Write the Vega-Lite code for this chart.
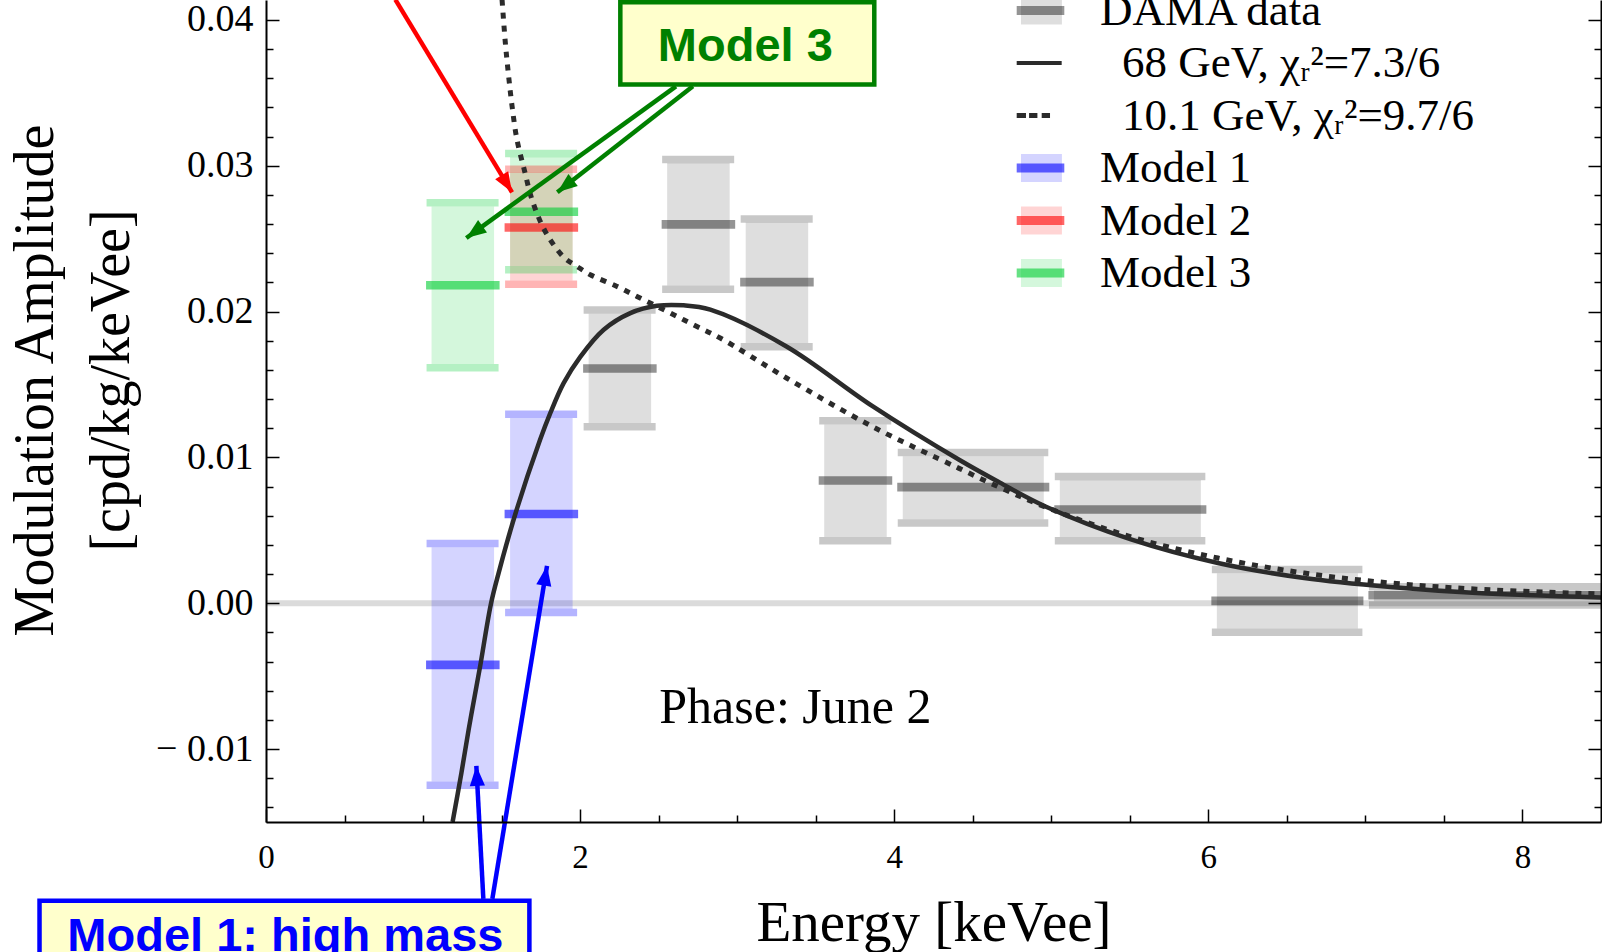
{
  "$schema": "https://vega.github.io/schema/vega-lite/v6.json",
  "width": 1335,
  "height": 822,
  "autosize": {"type": "none"},
  "padding": {"left": 266, "top": 0, "right": 1, "bottom": 130},
  "background": "white",
  "config": {"view": {"stroke": null}, "axis": {"grid": false}, "font": "Liberation Serif"},
  "datasets": {
    "bins": [
      {"series": "DAMA data", "lo": 2, "hi": 2.5, "val": 0.0161, "lower": 0.01211, "upper": 0.02011},
      {"series": "DAMA data", "lo": 2.5, "hi": 3, "val": 0.02598, "lower": 0.02154, "upper": 0.03044},
      {"series": "DAMA data", "lo": 3, "hi": 3.5, "val": 0.02202, "lower": 0.01759, "upper": 0.02636},
      {"series": "DAMA data", "lo": 3.5, "hi": 4, "val": 0.00842, "lower": 0.00429, "upper": 0.01252},
      {"series": "DAMA data", "lo": 4, "hi": 5, "val": 0.00797, "lower": 0.00551, "upper": 0.01034},
      {"series": "DAMA data", "lo": 5, "hi": 6, "val": 0.00643, "lower": 0.00429, "upper": 0.0087},
      {"series": "DAMA data", "lo": 6, "hi": 7, "val": 0.00016, "lower": -0.00198, "upper": 0.00232},
      {"series": "DAMA data", "lo": 7, "hi": 10, "val": 0.00055, "lower": -0.00012, "upper": 0.00113},
      {"series": "Model 1", "lo": 1, "hi": 1.5, "val": -0.00422, "lower": -0.01248, "upper": 0.0041},
      {"series": "Model 1", "lo": 1.5, "hi": 2, "val": 0.00612, "lower": -0.00064, "upper": 0.01296},
      {"series": "Model 2", "lo": 1.5, "hi": 2, "val": 0.02577, "lower": 0.02188, "upper": 0.02977},
      {"series": "Model 3", "lo": 1, "hi": 1.5, "val": 0.02181, "lower": 0.01615, "upper": 0.02747},
      {"series": "Model 3", "lo": 1.5, "hi": 2, "val": 0.02685, "lower": 0.02287, "upper": 0.03085}
    ],
    "curves": [
      {"series": "68 GeV, χᵣ²=7.3/6", "energy": 1.188, "amp": -0.015},
      {"series": "68 GeV, χᵣ²=7.3/6", "energy": 1.244, "amp": -0.01165},
      {"series": "68 GeV, χᵣ²=7.3/6", "energy": 1.29, "amp": -0.00868},
      {"series": "68 GeV, χᵣ²=7.3/6", "energy": 1.34, "amp": -0.0057},
      {"series": "68 GeV, χᵣ²=7.3/6", "energy": 1.365, "amp": -0.00422},
      {"series": "68 GeV, χᵣ²=7.3/6", "energy": 1.433, "amp": 0.0},
      {"series": "68 GeV, χᵣ²=7.3/6", "energy": 1.481, "amp": 0.00207},
      {"series": "68 GeV, χᵣ²=7.3/6", "energy": 1.588, "amp": 0.00614},
      {"series": "68 GeV, χᵣ²=7.3/6", "energy": 1.745, "amp": 0.01121},
      {"series": "68 GeV, χᵣ²=7.3/6", "energy": 1.81, "amp": 0.01304},
      {"series": "68 GeV, χᵣ²=7.3/6", "energy": 1.895, "amp": 0.0151},
      {"series": "68 GeV, χᵣ²=7.3/6", "energy": 2.001, "amp": 0.0169},
      {"series": "68 GeV, χᵣ²=7.3/6", "energy": 2.15, "amp": 0.01876},
      {"series": "68 GeV, χᵣ²=7.3/6", "energy": 2.32, "amp": 0.0199},
      {"series": "68 GeV, χᵣ²=7.3/6", "energy": 2.49, "amp": 0.0204},
      {"series": "68 GeV, χᵣ²=7.3/6", "energy": 2.659, "amp": 0.02043},
      {"series": "68 GeV, χᵣ²=7.3/6", "energy": 2.829, "amp": 0.02013},
      {"series": "68 GeV, χᵣ²=7.3/6", "energy": 3.314, "amp": 0.01761},
      {"series": "68 GeV, χᵣ²=7.3/6", "energy": 3.864, "amp": 0.0135},
      {"series": "68 GeV, χᵣ²=7.3/6", "energy": 4.413, "amp": 0.00984},
      {"series": "68 GeV, χᵣ²=7.3/6", "energy": 4.67, "amp": 0.00829},
      {"series": "68 GeV, χᵣ²=7.3/6", "energy": 4.963, "amp": 0.00664},
      {"series": "68 GeV, χᵣ²=7.3/6", "energy": 5.512, "amp": 0.00436},
      {"series": "68 GeV, χᵣ²=7.3/6", "energy": 6.061, "amp": 0.00276},
      {"series": "68 GeV, χᵣ²=7.3/6", "energy": 6.61, "amp": 0.00173},
      {"series": "68 GeV, χᵣ²=7.3/6", "energy": 7.16, "amp": 0.00111},
      {"series": "68 GeV, χᵣ²=7.3/6", "energy": 7.709, "amp": 0.0007},
      {"series": "68 GeV, χᵣ²=7.3/6", "energy": 8.507, "amp": 0.0004},
      {"series": "10.1 GeV, χᵣ²=9.7/6", "energy": 1.503, "amp": 0.04139},
      {"series": "10.1 GeV, χᵣ²=9.7/6", "energy": 1.524, "amp": 0.03842},
      {"series": "10.1 GeV, χᵣ²=9.7/6", "energy": 1.545, "amp": 0.03613},
      {"series": "10.1 GeV, χᵣ²=9.7/6", "energy": 1.567, "amp": 0.03407},
      {"series": "10.1 GeV, χᵣ²=9.7/6", "energy": 1.598, "amp": 0.03179},
      {"series": "10.1 GeV, χᵣ²=9.7/6", "energy": 1.647, "amp": 0.02962},
      {"series": "10.1 GeV, χᵣ²=9.7/6", "energy": 1.694, "amp": 0.02767},
      {"series": "10.1 GeV, χᵣ²=9.7/6", "energy": 1.778, "amp": 0.0255},
      {"series": "10.1 GeV, χᵣ²=9.7/6", "energy": 1.895, "amp": 0.02374},
      {"series": "10.1 GeV, χᵣ²=9.7/6", "energy": 1.98, "amp": 0.0231},
      {"series": "10.1 GeV, χᵣ²=9.7/6", "energy": 2.065, "amp": 0.02253},
      {"series": "10.1 GeV, χᵣ²=9.7/6", "energy": 2.235, "amp": 0.02173},
      {"series": "10.1 GeV, χᵣ²=9.7/6", "energy": 2.362, "amp": 0.02104},
      {"series": "10.1 GeV, χᵣ²=9.7/6", "energy": 2.49, "amp": 0.02036},
      {"series": "10.1 GeV, χᵣ²=9.7/6", "energy": 2.617, "amp": 0.01967},
      {"series": "10.1 GeV, χᵣ²=9.7/6", "energy": 2.744, "amp": 0.01898},
      {"series": "10.1 GeV, χᵣ²=9.7/6", "energy": 2.892, "amp": 0.01819},
      {"series": "10.1 GeV, χᵣ²=9.7/6", "energy": 3.314, "amp": 0.01545},
      {"series": "10.1 GeV, χᵣ²=9.7/6", "energy": 3.864, "amp": 0.0121},
      {"series": "10.1 GeV, χᵣ²=9.7/6", "energy": 4.413, "amp": 0.00925},
      {"series": "10.1 GeV, χᵣ²=9.7/6", "energy": 4.706, "amp": 0.00778},
      {"series": "10.1 GeV, χᵣ²=9.7/6", "energy": 4.963, "amp": 0.0066},
      {"series": "10.1 GeV, χᵣ²=9.7/6", "energy": 5.512, "amp": 0.00454},
      {"series": "10.1 GeV, χᵣ²=9.7/6", "energy": 6.061, "amp": 0.0031},
      {"series": "10.1 GeV, χᵣ²=9.7/6", "energy": 6.61, "amp": 0.00207},
      {"series": "10.1 GeV, χᵣ²=9.7/6", "energy": 7.16, "amp": 0.00139},
      {"series": "10.1 GeV, χᵣ²=9.7/6", "energy": 7.709, "amp": 0.00097},
      {"series": "10.1 GeV, χᵣ²=9.7/6", "energy": 8.507, "amp": 0.00063}
    ],
    "callout_boxes": [
      {"target": "Model 3", "e1": 2.256, "e2": 3.873, "a1": 0.03558, "a2": 0.04122},
      {"target": "Model 1", "e1": -1.442, "e2": 1.677, "a1": -0.0245, "a2": -0.0204}
    ],
    "callout_text": [
      {"target": "Model 3", "text": "Model 3", "e": 3.052, "a": 0.03716},
      {"target": "Model 1", "text": "Model 1: high mass", "e": 0.1235, "a": -0.02384}
    ],
    "arrows": [
      {"id": "r", "target": "Model 2", "e1": 0.8237, "a1": 0.04139, "e2": 1.5665, "a2": 0.02818},
      {"id": "g1", "target": "Model 3", "e1": 2.61, "a1": 0.03545, "e2": 1.2756, "a2": 0.02505},
      {"id": "g2", "target": "Model 3", "e1": 2.718, "a1": 0.03545, "e2": 1.855, "a2": 0.02818},
      {"id": "b1", "target": "Model 1", "e1": 1.3838, "a1": -0.02027, "e2": 1.3393, "a2": -0.01115},
      {"id": "b2", "target": "Model 1", "e1": 1.4411, "a1": -0.02027, "e2": 1.7893, "a2": 0.00257}
    ]
  },
  "layer": [
    {
      "data": {"values": [{}]},
      "mark": {"type": "rule", "color": "rgba(0,0,0,0.14)", "strokeWidth": 6},
      "encoding": {
        "y": {"datum": 0, "type": "quantitative",
          "scale": {"domain": [-0.015, 0.04137], "nice": false, "zero": false},
          "axis": {"orient": "right", "values": [-0.01, 0, 0.01, 0.02, 0.03, 0.04], "tickSize": -13, "tickWidth": 1.5, "tickColor": "black", "labels": false, "domain": true, "domainColor": "black", "domainWidth": 2, "title": null, "grid": false, "zindex": 1}}
      }
    },
    {
      "data": {"name": "bins"},
      "mark": {"type": "rect", "xOffset": 8.5, "x2Offset": -7.5, "yOffset": 3.7, "y2Offset": -3.7, "clip": true},
      "encoding": {
        "x": {"field": "lo", "type": "quantitative",
          "scale": {"domain": [0, 8.5], "nice": false, "zero": false},
          "axis": {"orient": "bottom", "values": [0, 2, 4, 6, 8], "format": "d", "tickSize": -13, "tickWidth": 1.5, "tickColor": "black", "domain": true, "domainColor": "black", "domainWidth": 2, "labelFont": "Liberation Serif", "labelFontSize": 33, "labelColor": "black", "labelPadding": 32, "labelFlush": false, "labelOverlap": false, "title": "Energy [keVee]", "titleFont": "Liberation Serif", "titleFontSize": 57, "titleFontWeight": "normal", "titleColor": "black", "titleY": 118, "titleBaseline": "alphabetic", "grid": false, "zindex": 1}},
        "x2": {"field": "hi"},
        "y": {"field": "upper", "type": "quantitative",
          "scale": {"domain": [-0.015, 0.04137], "nice": false, "zero": false},
          "axis": {"orient": "left", "values": [-0.01, 0, 0.01, 0.02, 0.03, 0.04], "labelExpr": "datum.value < -0.001 ? '− ' + format(-datum.value, '.2f') : format(datum.value, '.2f')", "tickSize": -13, "tickWidth": 1.5, "tickColor": "black", "domain": true, "domainColor": "black", "domainWidth": 2, "labelFont": "Liberation Serif", "labelFontSize": 38, "labelColor": "black", "labelPadding": 26, "labelFlush": false, "labelOverlap": false, "title": ["Modulation Amplitude", "[cpd/kg/keVee]"], "titleFont": "Liberation Serif", "titleFontSize": 56, "titleFontWeight": "normal", "titleColor": "black", "titleLineHeight": 76, "titleX": -231, "titleY": 380, "titleAngle": 270, "titleAlign": "center", "titleBaseline": "middle", "grid": false, "zindex": 1}},
        "y2": {"field": "lower"},
        "fill": {"field": "series", "type": "nominal",
          "scale": {"domain": ["DAMA data", "68 GeV, χᵣ²=7.3/6", "10.1 GeV, χᵣ²=9.7/6", "Model 1", "Model 2", "Model 3"],
            "range": ["rgba(0,0,0,0.13)", "transparent", "transparent", "rgba(0,0,255,0.17)", "rgba(255,0,0,0.17)", "rgba(0,205,50,0.17)"]},
          "legend": {"orient": "none", "legendX": 750.5, "legendY": -13.5, "padding": 0, "title": null,
            "symbolType": "M-0.82,-0.59H0.9V0.59H-0.82Z", "symbolSize": 2266, "symbolStrokeWidth": 0,
            "labelFont": "Liberation Serif", "labelFontSize": 45, "labelColor": "black", "labelOffset": 35.5, "labelLimit": 800,
            "rowPadding": 5.5, "zindex": 1,
            "encode": {"labels": {"update": {"dx": {"signal": "indexof(datum.label, 'GeV') >= 0 ? 22 : 0"}}}}}}
      }
    },
    {
      "data": {"name": "bins"},
      "mark": {"type": "rule", "strokeWidth": 7.5, "xOffset": 3.5, "x2Offset": -3, "clip": true},
      "encoding": {
        "x": {"field": "lo", "type": "quantitative", "scale": {"domain": [0, 8.5], "nice": false, "zero": false},
          "axis": {"orient": "bottom", "values": [0.5, 1, 1.5, 2.5, 3, 3.5, 4.5, 5, 5.5, 6.5, 7, 7.5], "tickSize": -7, "tickWidth": 1.5, "tickColor": "black", "labels": false, "domain": false, "title": null, "grid": false, "zindex": 1}},
        "x2": {"field": "hi"},
        "y": {"field": "upper", "type": "quantitative", "scale": {"domain": [-0.015, 0.04137], "nice": false, "zero": false},
          "axis": {"orient": "left", "values": [-0.014, -0.012, -0.008, -0.006, -0.004, -0.002, 0.002, 0.004, 0.006, 0.008, 0.012, 0.014, 0.016, 0.018, 0.022, 0.024, 0.026, 0.028, 0.032, 0.034, 0.036, 0.038], "tickSize": -7, "tickWidth": 1.5, "tickColor": "black", "labels": false, "domain": false, "title": null, "grid": false, "zindex": 1}},
        "color": {"field": "series", "type": "nominal",
          "scale": {"domain": ["DAMA data", "68 GeV, χᵣ²=7.3/6", "10.1 GeV, χᵣ²=9.7/6", "Model 1", "Model 2", "Model 3"],
            "range": ["rgba(0,0,0,0.216)", "transparent", "transparent", "rgba(0,0,255,0.294)", "rgba(255,0,0,0.294)", "rgba(0,205,50,0.294)"]},
          "legend": null}
      }
    },
    {
      "data": {"name": "bins"},
      "mark": {"type": "rule", "strokeWidth": 7.5, "xOffset": 3.5, "x2Offset": -3, "clip": true},
      "encoding": {
        "x": {"field": "lo", "type": "quantitative", "scale": {"domain": [0, 8.5], "nice": false, "zero": false}, "axis": null},
        "x2": {"field": "hi"},
        "y": {"field": "lower", "type": "quantitative", "scale": {"domain": [-0.015, 0.04137], "nice": false, "zero": false}, "axis": null},
        "color": {"field": "series", "type": "nominal", "legend": null}
      }
    },
    {
      "data": {"name": "bins"},
      "mark": {"type": "rule", "strokeWidth": 8.7, "xOffset": 3, "x2Offset": -2, "clip": true},
      "encoding": {
        "x": {"field": "lo", "type": "quantitative", "scale": {"domain": [0, 8.5], "nice": false, "zero": false}, "axis": null},
        "x2": {"field": "hi"},
        "y": {"field": "val", "type": "quantitative", "scale": {"domain": [-0.015, 0.04137], "nice": false, "zero": false}, "axis": null},
        "stroke": {"field": "series", "type": "nominal",
          "scale": {"domain": ["DAMA data", "68 GeV, χᵣ²=7.3/6", "10.1 GeV, χᵣ²=9.7/6", "Model 1", "Model 2", "Model 3", "_"],
            "range": ["rgba(0,0,0,0.42)", "#2b2b2b", "#2b2b2b", "rgba(0,0,255,0.6)", "rgba(255,0,0,0.6)", "rgba(0,205,50,0.6)", "transparent"]},
          "legend": {"orient": "none", "legendX": 750.5, "legendY": -13.5, "padding": 0, "title": null,
            "values": ["DAMA data", "68 GeV, χᵣ²=7.3/6", "10.1 GeV, χᵣ²=9.7/6", "Model 1", "Model 2", "Model 3"],
            "symbolSize": 2266, "symbolStrokeWidth": 0,
            "labelFont": "Liberation Serif", "labelFontSize": 45, "labelOffset": 35.5, "labelLimit": 800,
            "labelExpr": "''",
            "rowPadding": 5.5, "zindex": 2,
            "encode": {"symbols": {"update": {
              "shape": {"signal": "indexof(datum.value, '68 GeV') >= 0 ? 'M-1,-0.085H0.89V0.085H-1Z' : indexof(datum.value, '10.1 GeV') >= 0 ? 'M-1,-0.1H-0.61V0.1H-1Z M-0.48,-0.1H-0.13V0.1H-0.48Z M0.05,-0.1H0.4V0.1H0.05Z' : 'M-1,-0.19H1V0.19H-1Z'"},
              "fill": {"signal": "indexof(datum.value, 'GeV') >= 0 ? '#2b2b2b' : indexof(datum.value, 'DAMA') >= 0 ? 'rgba(0,0,0,0.42)' : indexof(datum.value, 'Model 1') >= 0 ? 'rgba(0,0,255,0.6)' : indexof(datum.value, 'Model 2') >= 0 ? 'rgba(255,0,0,0.6)' : 'rgba(0,205,50,0.6)'"},
              "strokeWidth": {"value": 0},
              "opacity": {"value": 1}
            }}}}}
      }
    },
    {
      "data": {"name": "curves"},
      "transform": [{"filter": {"field": "series", "equal": "68 GeV, χᵣ²=7.3/6"}}],
      "mark": {"type": "line", "strokeWidth": 4.5, "interpolate": "catmull-rom", "clip": true},
      "encoding": {
        "x": {"field": "energy", "type": "quantitative", "scale": {"domain": [0, 8.5], "nice": false, "zero": false}, "axis": null},
        "y": {"field": "amp", "type": "quantitative", "scale": {"domain": [-0.015, 0.04137], "nice": false, "zero": false}, "axis": null},
        "stroke": {"field": "series", "type": "nominal", "legend": null}
      }
    },
    {
      "data": {"name": "curves"},
      "transform": [{"filter": {"field": "series", "equal": "10.1 GeV, χᵣ²=9.7/6"}}],
      "mark": {"type": "line", "strokeWidth": 5, "strokeDash": [6, 7], "interpolate": "catmull-rom", "clip": true},
      "encoding": {
        "x": {"field": "energy", "type": "quantitative", "scale": {"domain": [0, 8.5], "nice": false, "zero": false}, "axis": null},
        "y": {"field": "amp", "type": "quantitative", "scale": {"domain": [-0.015, 0.04137], "nice": false, "zero": false}, "axis": null},
        "stroke": {"field": "series", "type": "nominal", "legend": null}
      }
    },
    {
      "data": {"name": "callout_boxes"},
      "transform": [{"filter": {"field": "target", "equal": "Model 3"}}],
      "mark": {"type": "rect", "fill": "#ffffcc", "stroke": "#008000", "strokeWidth": 4.5},
      "encoding": {
        "x": {"field": "e1", "type": "quantitative", "scale": {"domain": [0, 8.5], "nice": false, "zero": false}, "axis": null},
        "x2": {"field": "e2"},
        "y": {"field": "a1", "type": "quantitative", "scale": {"domain": [-0.015, 0.04137], "nice": false, "zero": false}, "axis": null},
        "y2": {"field": "a2"}
      }
    },
    {
      "data": {"name": "callout_boxes"},
      "transform": [{"filter": {"field": "target", "equal": "Model 1"}}],
      "mark": {"type": "rect", "fill": "#ffffcc", "stroke": "#0000ff", "strokeWidth": 4.5},
      "encoding": {
        "x": {"field": "e1", "type": "quantitative", "scale": {"domain": [0, 8.5], "nice": false, "zero": false}, "axis": null},
        "x2": {"field": "e2"},
        "y": {"field": "a1", "type": "quantitative", "scale": {"domain": [-0.015, 0.04137], "nice": false, "zero": false}, "axis": null},
        "y2": {"field": "a2"}
      }
    },
    {
      "data": {"name": "arrows"},
      "transform": [{"filter": {"field": "target", "equal": "Model 2"}}],
      "mark": {"type": "rule", "strokeWidth": 4.5, "color": "#ff0000"},
      "encoding": {
        "x": {"field": "e1", "type": "quantitative", "scale": {"domain": [0, 8.5], "nice": false, "zero": false}, "axis": null},
        "x2": {"field": "e2"},
        "y": {"field": "a1", "type": "quantitative", "scale": {"domain": [-0.015, 0.04137], "nice": false, "zero": false}, "axis": null},
        "y2": {"field": "a2"}
      }
    },
    {
      "data": {"name": "arrows"},
      "transform": [{"filter": {"field": "target", "equal": "Model 3"}}],
      "mark": {"type": "rule", "strokeWidth": 4.5, "color": "#008000"},
      "encoding": {
        "x": {"field": "e1", "type": "quantitative", "scale": {"domain": [0, 8.5], "nice": false, "zero": false}, "axis": null},
        "x2": {"field": "e2"},
        "y": {"field": "a1", "type": "quantitative", "scale": {"domain": [-0.015, 0.04137], "nice": false, "zero": false}, "axis": null},
        "y2": {"field": "a2"}
      }
    },
    {
      "data": {"name": "arrows"},
      "transform": [{"filter": {"field": "target", "equal": "Model 1"}}],
      "mark": {"type": "rule", "strokeWidth": 4.5, "color": "#0000ff"},
      "encoding": {
        "x": {"field": "e1", "type": "quantitative", "scale": {"domain": [0, 8.5], "nice": false, "zero": false}, "axis": null},
        "x2": {"field": "e2"},
        "y": {"field": "a1", "type": "quantitative", "scale": {"domain": [-0.015, 0.04137], "nice": false, "zero": false}, "axis": null},
        "y2": {"field": "a2"}
      }
    },
    {
      "data": {"name": "arrows"},
      "transform": [{"filter": {"field": "id", "equal": "r"}}],
      "mark": {"type": "point", "shape": "M0,0L0.38,1L-0.38,1Z", "size": 1600, "filled": true, "opacity": 1, "strokeWidth": 0, "angle": 148.8, "color": "#ff0000"},
      "encoding": {
        "x": {"field": "e2", "type": "quantitative", "scale": {"domain": [0, 8.5], "nice": false, "zero": false}, "axis": null},
        "y": {"field": "a2", "type": "quantitative", "scale": {"domain": [-0.015, 0.04137], "nice": false, "zero": false}, "axis": null}
      }
    },
    {
      "data": {"name": "arrows"},
      "transform": [{"filter": {"field": "id", "equal": "g1"}}],
      "mark": {"type": "point", "shape": "M0,0L0.38,1L-0.38,1Z", "size": 1600, "filled": true, "opacity": 1, "strokeWidth": 0, "angle": 234.1, "color": "#008000"},
      "encoding": {
        "x": {"field": "e2", "type": "quantitative", "scale": {"domain": [0, 8.5], "nice": false, "zero": false}, "axis": null},
        "y": {"field": "a2", "type": "quantitative", "scale": {"domain": [-0.015, 0.04137], "nice": false, "zero": false}, "axis": null}
      }
    },
    {
      "data": {"name": "arrows"},
      "transform": [{"filter": {"field": "id", "equal": "g2"}}],
      "mark": {"type": "point", "shape": "M0,0L0.38,1L-0.38,1Z", "size": 1600, "filled": true, "opacity": 1, "strokeWidth": 0, "angle": 232, "color": "#008000"},
      "encoding": {
        "x": {"field": "e2", "type": "quantitative", "scale": {"domain": [0, 8.5], "nice": false, "zero": false}, "axis": null},
        "y": {"field": "a2", "type": "quantitative", "scale": {"domain": [-0.015, 0.04137], "nice": false, "zero": false}, "axis": null}
      }
    },
    {
      "data": {"name": "arrows"},
      "transform": [{"filter": {"field": "id", "equal": "b1"}}],
      "mark": {"type": "point", "shape": "M0,0L0.38,1L-0.38,1Z", "size": 1600, "filled": true, "opacity": 1, "strokeWidth": 0, "angle": 357, "color": "#0000ff"},
      "encoding": {
        "x": {"field": "e2", "type": "quantitative", "scale": {"domain": [0, 8.5], "nice": false, "zero": false}, "axis": null},
        "y": {"field": "a2", "type": "quantitative", "scale": {"domain": [-0.015, 0.04137], "nice": false, "zero": false}, "axis": null}
      }
    },
    {
      "data": {"name": "arrows"},
      "transform": [{"filter": {"field": "id", "equal": "b2"}}],
      "mark": {"type": "point", "shape": "M0,0L0.38,1L-0.38,1Z", "size": 1600, "filled": true, "opacity": 1, "strokeWidth": 0, "angle": 9.3, "color": "#0000ff"},
      "encoding": {
        "x": {"field": "e2", "type": "quantitative", "scale": {"domain": [0, 8.5], "nice": false, "zero": false}, "axis": null},
        "y": {"field": "a2", "type": "quantitative", "scale": {"domain": [-0.015, 0.04137], "nice": false, "zero": false}, "axis": null}
      }
    },
    {
      "data": {"name": "callout_text"},
      "transform": [{"filter": {"field": "target", "equal": "Model 3"}}],
      "mark": {"type": "text", "font": "Liberation Sans", "fontWeight": "bold", "fontSize": 47, "align": "center", "baseline": "alphabetic", "color": "#008000"},
      "encoding": {
        "x": {"field": "e", "type": "quantitative", "scale": {"domain": [0, 8.5], "nice": false, "zero": false}, "axis": null},
        "y": {"field": "a", "type": "quantitative", "scale": {"domain": [-0.015, 0.04137], "nice": false, "zero": false}, "axis": null},
        "text": {"field": "text"}
      }
    },
    {
      "data": {"name": "callout_text"},
      "transform": [{"filter": {"field": "target", "equal": "Model 1"}}],
      "mark": {"type": "text", "font": "Liberation Sans", "fontWeight": "bold", "fontSize": 47, "align": "center", "baseline": "alphabetic", "color": "#0000ff"},
      "encoding": {
        "x": {"field": "e", "type": "quantitative", "scale": {"domain": [0, 8.5], "nice": false, "zero": false}, "axis": null},
        "y": {"field": "a", "type": "quantitative", "scale": {"domain": [-0.015, 0.04137], "nice": false, "zero": false}, "axis": null},
        "text": {"field": "text"}
      }
    },
    {
      "data": {"values": [{}]},
      "mark": {"type": "text", "text": "Phase: June 2", "font": "Liberation Serif", "fontSize": 50, "align": "left", "baseline": "alphabetic", "color": "black"},
      "encoding": {
        "x": {"datum": 2.504, "type": "quantitative", "scale": {"domain": [0, 8.5], "nice": false, "zero": false}, "axis": null},
        "y": {"datum": -0.0082, "type": "quantitative", "scale": {"domain": [-0.015, 0.04137], "nice": false, "zero": false},
          "axis": {"orient": "right", "values": [-0.014, -0.012, -0.008, -0.006, -0.004, -0.002, 0.002, 0.004, 0.006, 0.008, 0.012, 0.014, 0.016, 0.018, 0.022, 0.024, 0.026, 0.028, 0.032, 0.034, 0.036, 0.038], "tickSize": -7, "tickWidth": 1.5, "tickColor": "black", "labels": false, "domain": false, "title": null, "grid": false, "zindex": 1}}
      }
    }
  ],
  "resolve": {
    "axis": {"x": "independent", "y": "independent"}
  }
}
